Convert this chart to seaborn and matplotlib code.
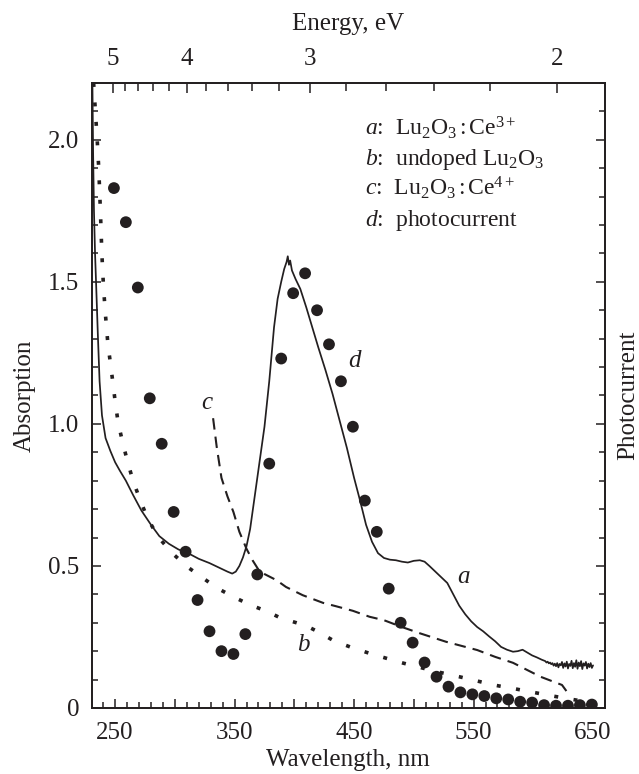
import numpy as np
import pandas as pd
import matplotlib
matplotlib.use("Agg")
import matplotlib.pyplot as plt
import seaborn as sns

# ---------------- data ----------------
# a: Lu2O3:Ce3+ absorption (solid)
wl_a = [231.0, 231.6, 232.3, 233.2, 234.2, 235.5, 237.0, 239.0, 242.0, 246.0,
        250.0, 254.0, 259.0, 265.0, 272.0, 280.0, 287.0, 295.0, 303.0, 311.0,
        320.0, 329.0, 338.0, 344.0, 348.0, 351.0, 354.0, 357.0, 360.0, 363.0,
        367.0, 371.0, 375.0, 379.0, 383.0, 386.0, 389.0, 391.5, 393.5, 394.5,
        395.5, 396.5, 398.0, 401.0, 405.0, 410.0, 415.0, 420.0, 426.0, 432.0,
        438.0, 444.0, 450.0, 455.0, 460.0, 465.0, 470.0, 475.0, 480.0, 485.0,
        490.0, 495.0, 500.0, 505.0, 509.0, 513.0, 518.0, 523.0, 528.0, 533.0,
        538.0, 543.0, 548.0, 553.0, 558.0, 563.0, 568.0, 573.0, 578.0, 583.0,
        587.0, 591.0, 595.0, 599.0, 603.0, 607.0,
        610.0, 611.0, 612.0, 613.0, 614.0, 615.0, 616.0, 617.0, 618.0, 619.0,
        620.0, 621.0, 622.0, 623.0, 624.0, 625.0, 626.0, 627.0, 628.0, 629.0,
        630.0, 631.0, 632.0, 633.0, 634.0, 635.0, 636.0, 637.0, 638.0, 639.0,
        640.0, 641.0, 642.0, 643.0, 644.0, 645.0, 646.0, 647.0, 648.0, 649.0,
        650.0]
abs_a = [2.20, 1.95, 1.75, 1.60, 1.48, 1.32, 1.15, 1.03, 0.95, 0.905,
         0.865, 0.835, 0.80, 0.75, 0.695, 0.645, 0.605, 0.578, 0.558, 0.545,
         0.525, 0.510, 0.492, 0.480, 0.473, 0.480, 0.500, 0.530, 0.570, 0.630,
         0.750, 0.870, 0.990, 1.150, 1.340, 1.440, 1.500, 1.545, 1.570, 1.590,
         1.560, 1.575, 1.540, 1.510, 1.475, 1.410, 1.340, 1.270, 1.190, 1.105,
         1.010, 0.915, 0.810, 0.730, 0.645, 0.585, 0.545, 0.528, 0.522, 0.520,
         0.515, 0.512, 0.518, 0.520, 0.515, 0.500, 0.480, 0.460, 0.440, 0.400,
         0.360, 0.330, 0.305, 0.285, 0.270, 0.252, 0.235, 0.215, 0.205, 0.198,
         0.200, 0.205, 0.195, 0.185, 0.178, 0.170,
         0.165, 0.160, 0.163, 0.157, 0.160, 0.154, 0.158, 0.149, 0.156, 0.147,
         0.158, 0.143, 0.155, 0.150, 0.162, 0.141, 0.157, 0.146, 0.163, 0.139,
         0.155, 0.148, 0.166, 0.140, 0.158, 0.145, 0.168, 0.138, 0.160, 0.147,
         0.165, 0.137, 0.157, 0.149, 0.162, 0.139, 0.156, 0.144, 0.158, 0.141,
         0.150]

# b: undoped Lu2O3 (dotted)
wl_b = [232.0, 233.5, 235.0, 236.3, 237.6, 238.9, 240.3, 242.0, 243.9, 246.0,
        248.0, 250.0, 252.5, 256.0, 260.2, 265.0, 270.5, 277.0, 286.0, 298.0,
        311.0, 322.0, 335.0, 349.0, 363.5, 376.6, 388.4, 401.7, 411.0, 420.0,
        432.4, 447.8, 463.2, 479.4, 491.0, 505.0, 520.0, 538.0, 553.0, 568.0,
        584.0, 600.0, 615.0, 630.0, 640.0]
abs_b = [2.20, 2.10, 2.00, 1.90, 1.76, 1.60, 1.48, 1.38, 1.284, 1.215,
         1.15, 1.08, 1.005, 0.94, 0.87, 0.80, 0.737, 0.669, 0.602, 0.544,
         0.495, 0.462, 0.423, 0.391, 0.362, 0.341, 0.317, 0.300, 0.287, 0.268,
         0.238, 0.213, 0.192, 0.172, 0.158, 0.143, 0.127, 0.110, 0.095, 0.080,
         0.068, 0.055, 0.043, 0.032, 0.025]

# c: Lu2O3:Ce4+ (dashed)
wl_c = [332.0, 335.0, 339.0, 344.0, 349.0, 354.0, 360.0, 365.0, 371.0, 385.0,
        393.0, 407.0, 424.0, 435.0, 449.0, 463.0, 475.0, 490.0, 505.0, 527.0,
        553.0, 568.0, 583.0, 606.0, 624.0, 629.0]
abs_c = [1.02, 0.92, 0.81, 0.745, 0.69, 0.62, 0.56, 0.52, 0.48, 0.45,
         0.426, 0.397, 0.370, 0.358, 0.342, 0.321, 0.309, 0.285, 0.263, 0.233,
         0.204, 0.180, 0.159, 0.110, 0.081, 0.052]

# d: photocurrent (filled circles)
wl_d = [249, 259, 269, 279, 289, 299, 309, 319, 329, 339,
        349, 359, 369, 379, 389, 399, 409, 419, 429, 439,
        449, 459, 469, 479, 489, 499, 509, 519, 529, 539,
        549, 559, 569, 579, 589, 599, 609, 619, 629, 639, 649]
pc_d = [1.83, 1.71, 1.48, 1.09, 0.93, 0.69, 0.55, 0.38, 0.27, 0.20,
        0.19, 0.26, 0.47, 0.86, 1.23, 1.46, 1.53, 1.40, 1.28, 1.15,
        0.99, 0.73, 0.62, 0.42, 0.30, 0.23, 0.16, 0.11, 0.075, 0.055,
        0.048, 0.042, 0.034, 0.030, 0.022, 0.019, 0.010, 0.008, 0.008, 0.010, 0.012]

x_ticks = [250, 350, 450, 550, 650]
y_ticks = [0, 0.5, 1.0, 1.5, 2.0]
y_ticklabels = ["0", "0.5", "1.0", "1.5", "2.0"]
energy_major = [5, 4, 3, 2]
energy_minor = [4.8, 4.6, 4.4, 4.2, 3.8, 3.6, 3.4, 3.2, 2.8, 2.6, 2.4, 2.2]
legend_lines = [r"$\mathit{a}$:  Lu$_2$O$_3$$\,$:$\,$Ce$^{3+}$",
                r"$\mathit{b}$:  undoped Lu$_2$O$_3$",
                r"$\mathit{c}$:  Lu$_2$O$_3$$\,$:$\,$Ce$^{4+}$",
                r"$\mathit{d}$:  photocurrent"]

# ---------------- style ----------------
sns.set_theme(style="ticks")
ink = "#231f20"
plt.rcParams.update({
    "font.family": ["Liberation Serif", "DejaVu Serif"],
    "mathtext.fontset": "custom",
    "mathtext.rm": "Liberation Serif",
    "mathtext.it": "Liberation Serif:italic",
    "mathtext.bf": "Liberation Serif:bold",
    "axes.edgecolor": ink,
    "axes.linewidth": 1.1,
    "text.color": ink,
    "axes.labelcolor": ink,
    "xtick.color": ink,
    "ytick.color": ink,
})

fig = plt.figure(figsize=(6.39, 7.74), dpi=100)
ax = fig.add_axes([0.1435, 0.0853, 0.8033, 0.8075])

df_a = pd.DataFrame({"wl": wl_a, "v": abs_a})
df_b = pd.DataFrame({"wl": wl_b, "v": abs_b})
df_c = pd.DataFrame({"wl": wl_c, "v": abs_c})
df_d = pd.DataFrame({"wl": wl_d, "v": pc_d})

sns.lineplot(data=df_a, x="wl", y="v", ax=ax, color=ink, lw=1.25,
             estimator=None, sort=False)
sns.lineplot(data=df_b, x="wl", y="v", ax=ax, color=ink, lw=2.6,
             linestyle=(0, (1.1, 4.3)), estimator=None, sort=False,
             dash_capstyle="butt")
sns.lineplot(data=df_c, x="wl", y="v", ax=ax, color=ink, lw=1.5,
             linestyle=(0, (5.5, 3.4)), estimator=None, sort=False)

xlim = (230.4, 660.0)
ylim = (0.0, 2.2)
ax.set_xlim(*xlim)
ax.set_ylim(*ylim)

# ticks: bottom / left
major_x = [250, 300, 350, 400, 450, 500, 550, 600, 650]
ax.set_xticks(major_x)
ax.set_xticklabels([str(t) if t in x_ticks else "" for t in major_x])
ax.set_xticks(np.arange(240, 660, 10), minor=True)
ax.set_yticks(y_ticks)
ax.set_yticklabels(y_ticklabels)
ax.set_yticks(np.arange(0, 2.21, 0.1), minor=True)
ax.tick_params(axis="both", which="both", direction="in", labelsize=18,
               top=False, right=False, width=1.1)
ax.tick_params(axis="both", which="major", length=6.5)
ax.tick_params(axis="both", which="minor", length=4)
ax.tick_params(axis="x", which="major", pad=10)
ax.tick_params(axis="y", which="major", pad=9)
ax.set_xlabel("Wavelength, nm", fontsize=18, labelpad=4)
ax.set_ylabel("Absorption", fontsize=18, labelpad=9)

# right axis: photocurrent
axR = ax.twinx()
axR.set_ylim(*ylim)
sns.scatterplot(data=df_d, x="wl", y="v", ax=axR, color=ink, s=72,
                edgecolor="none", linewidth=0, zorder=5)
axR.set_xlim(*xlim)
axR.set_yticks(y_ticks)
axR.set_yticks(np.arange(0, 2.21, 0.1), minor=True)
axR.tick_params(axis="y", which="both", direction="in", labelright=False,
                width=1.1)
axR.tick_params(axis="y", which="major", length=6.5)
axR.tick_params(axis="y", which="minor", length=4)
axR.set_ylabel("Photocurrent", fontsize=18, labelpad=9)
axR.set_xlabel("")

# top axis: energy
axT = ax.twiny()
axT.set_xlim(*xlim)
axT.set_xticks([1240.0 / e for e in energy_major])
axT.set_xticklabels([str(e) for e in energy_major])
axT.set_xticks([1240.0 / e for e in energy_minor], minor=True)
axT.tick_params(axis="x", which="both", direction="in", labelsize=18,
                width=1.1, pad=9)
axT.tick_params(axis="x", which="major", length=7)
axT.tick_params(axis="x", which="minor", length=6)
axT.set_xlabel("Energy, eV", fontsize=18, labelpad=13)

for a_ in (ax, axR, axT):
    for s in a_.spines.values():
        s.set_linewidth(1.1)
        s.set_color(ink)

# curve labels
ax.text(541.4, 0.46, "a", fontsize=18, style="italic", ha="center", va="center")
ax.text(407.5, 0.22, "b", fontsize=18, style="italic", ha="center", va="center")
ax.text(326.5, 1.075, "c", fontsize=18, style="italic", ha="center", va="center")
ax.text(450.6, 1.223, "d", fontsize=18, style="italic", ha="center", va="center")

# legend text block
for i, line in enumerate(legend_lines):
    ax.text(0.532, 0.917 - i * 0.0485, line, transform=ax.transAxes,
            fontsize=17, ha="left", va="baseline")

fig.savefig("out.png", dpi=100)
